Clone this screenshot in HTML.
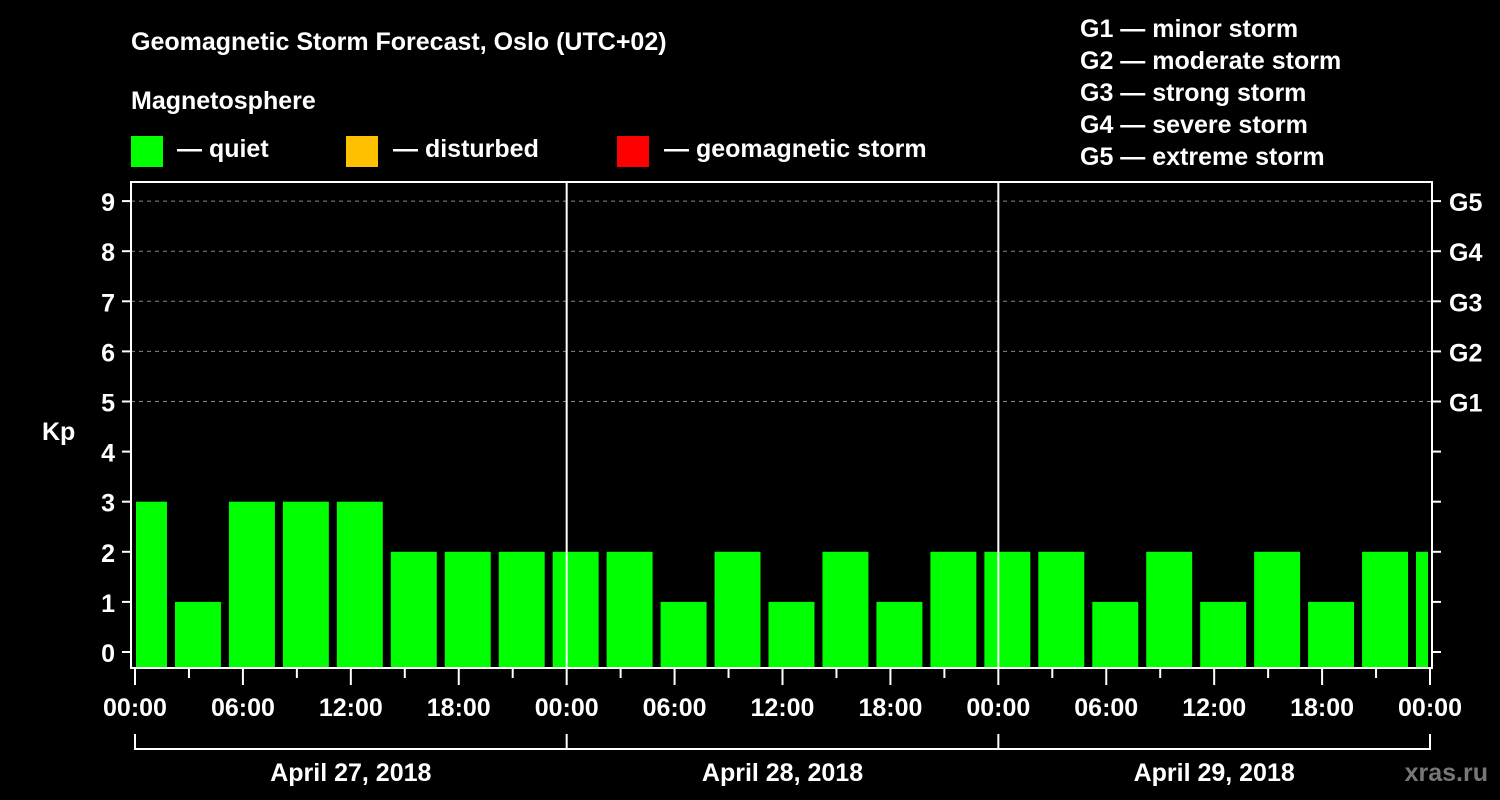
<!DOCTYPE html>
<html><head><meta charset="utf-8"><style>
html,body{margin:0;padding:0;background:#000;}
svg{display:block;font-family:"Liberation Sans",Arial,sans-serif;font-weight:bold;}
</style></head><body>
<svg id="chart" width="1500" height="800" viewBox="0 0 1500 800">
<rect width="1500" height="800" fill="#000"/>
<g fill="#fff" font-size="25">
<text x="131" y="50">Geomagnetic Storm Forecast, Oslo (UTC+02)</text>
<text x="131" y="109">Magnetosphere</text>
<rect x="131" y="136" width="32" height="31" fill="#00ff00"/>
<text x="177" y="157">— quiet</text>
<rect x="346" y="136" width="32" height="31" fill="#ffc000"/>
<text x="393" y="157">— disturbed</text>
<rect x="617" y="136" width="32" height="31" fill="#ff0000"/>
<text x="664" y="157">— geomagnetic storm</text>
<text x="1080" y="37">G1 — minor storm</text>
<text x="1080" y="69">G2 — moderate storm</text>
<text x="1080" y="101">G3 — strong storm</text>
<text x="1080" y="133">G4 — severe storm</text>
<text x="1080" y="165">G5 — extreme storm</text>
<text x="42" y="440">Kp</text>
</g>
<text x="1488" y="781" fill="#777" font-size="25" text-anchor="end">xras.ru</text>
<g id="grid"></g><g id="bars"></g><g id="axes"></g>
</svg>
<script>
const kpValues=[3,1,3,3,3,2,2,2,2,2,1,2,1,2,1,2,2,2,1,2,1,2,1,2,2];
const yTicks=[0,1,2,3,4,5,6,7,8,9];
const gLabels=["G1","G2","G3","G4","G5"];
const gLevels=[5,6,7,8,9];
const xTickLabels=["00:00","06:00","12:00","18:00"];
const dayLabels=["April 27, 2018","April 28, 2018","April 29, 2018"];
const slotStartHour=-1, slotHours=3;

const NS="http://www.w3.org/2000/svg";
const X0=135,DAYW=431.67,PL=131,PR=1432,PT=182,PB=668;
const xs=h=>X0+h*DAYW/24;
const ys=v=>652-v*50.1;
function mk(tag,attrs,parent){const e=document.createElementNS(NS,tag);for(const k in attrs)e.setAttribute(k,attrs[k]);parent.appendChild(e);return e;}
const grid=document.getElementById('grid'),bars=document.getElementById('bars'),axes=document.getElementById('axes');

gLevels.forEach((v,i)=>{
  const l=mk('line',{x1:PL,x2:PR,y1:ys(v),y2:ys(v),stroke:'#888','stroke-dasharray':'4,4','stroke-width':1},grid);
  
  
  const t=mk('text',{x:1449,y:ys(v)+10,fill:'#fff','font-size':25},axes);t.textContent=gLabels[i];
  
  
});
kpValues.forEach((v,i)=>{
  let a=xs(slotStartHour+i*slotHours)+4,b=xs(slotStartHour+(i+1)*slotHours)-4;
  a=Math.max(a,136);b=Math.min(b,1428);
  const r=mk('rect',{x:a,y:ys(v),width:b-a,height:PB-ys(v),fill:'#00ff00'},bars);
  
  
});
const frame=mk('path',{d:`M${PL} ${PT}H${PR}V${PB}H${PL}Z`,fill:'none',stroke:'#fff','stroke-width':2},axes);


yTicks.forEach(v=>{
  mk('line',{x1:122,x2:PL,y1:ys(v),y2:ys(v),stroke:'#fff','stroke-width':2},axes);
  mk('line',{x1:PR,x2:1441,y1:ys(v),y2:ys(v),stroke:'#fff','stroke-width':2},axes);
  const t=mk('text',{x:115,y:ys(v)+10,fill:'#fff','font-size':25,'text-anchor':'end'},axes);t.textContent=v;
  
  
});
[1,2].forEach(d=>{
  const l=mk('line',{x1:xs(d*24),x2:xs(d*24),y1:PT,y2:PB,stroke:'#fff','stroke-width':2},axes);
  
  
});
for(let h=0;h<=72;h+=3){
  const major=h%6===0;
  mk('line',{x1:xs(h),x2:xs(h),y1:PB,y2:major?685:678,stroke:'#fff','stroke-width':2},axes);
  if(major){
    const t=mk('text',{x:xs(h),y:716,fill:'#fff','font-size':25,'text-anchor':'middle'},axes);
    t.textContent=xTickLabels[(h/6)%4];
    
    
  }
}
const br=mk('path',{d:`M${xs(0)} 734V749H${xs(72)}V734M${xs(24)} 734V749M${xs(48)} 734V749`,fill:'none',stroke:'#fff','stroke-width':2},axes);


dayLabels.forEach((d,i)=>{
  const t=mk('text',{x:xs(i*24+12),y:781,fill:'#fff','font-size':25,'text-anchor':'middle'},axes);t.textContent=d;
  
  
});
</script>
</body></html>
